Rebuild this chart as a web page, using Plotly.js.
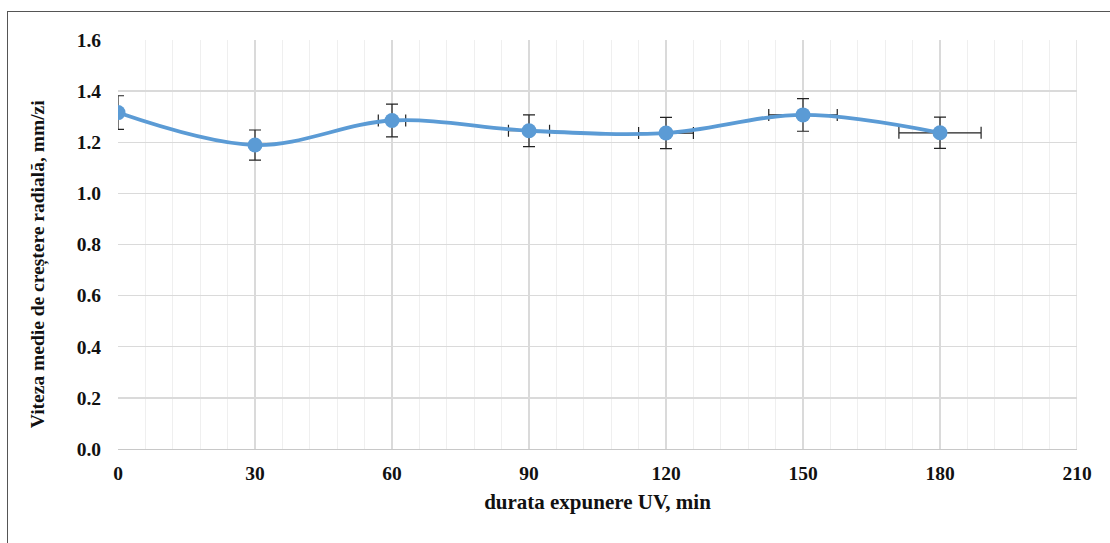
<!DOCTYPE html>
<html>
<head>
<meta charset="utf-8">
<script src="https://cdn.plot.ly/plotly-3.0.1.min.js"></script>
<style>
  html, body { margin: 0; padding: 0; background: #fff; }
  #frame { position: absolute; left: 7px; top: 11px; width: 1200px; height: 600px;
           border-left: 1.5px solid #555; border-top: 1.5px solid #555; pointer-events: none; }
  #chart { position: absolute; left: 0; top: 0; width: 1110px; height: 543px; }
</style>
</head>
<body>
<div id="chart"></div>
<div id="frame"></div>
<script>
const durations = [0, 30, 60, 90, 120, 150, 180];
const growthRate = [1.316, 1.189, 1.285, 1.245, 1.236, 1.307, 1.237];
const yError = [0.066, 0.059, 0.064, 0.062, 0.061, 0.064, 0.061];
const xError = [0, 0, 3, 4.5, 6, 7.5, 9];
const xTicks = [0, 30, 60, 90, 120, 150, 180, 210];
const yTicks = [0.0, 0.2, 0.4, 0.6, 0.8, 1.0, 1.2, 1.4, 1.6];
const xTitle = 'durata expunere UV, min';
const yTitle = 'Viteza medie de creștere radială, mm/zi';

const FAMILY = 'Liberation Serif';
const TICK_FONT = () => ({ family: FAMILY, size: 19.5, color: '#111', weight: 'bold' });
const TITLE_FONT = () => ({ family: FAMILY, size: 21, color: '#111', weight: 'bold' });

const trace = {
  x: durations,
  y: growthRate,
  type: 'scatter',
  mode: 'lines+markers',
  line: { color: '#5B9BD5', width: 3.8, shape: 'spline', smoothing: 1 },
  marker: { color: '#5B9BD5', size: 15 },
  error_y: { type: 'data', array: yError, visible: true, color: '#222', thickness: 1.2, width: 6 },
  error_x: { type: 'data', array: xError, visible: true, color: '#222', thickness: 1.2, width: 6 },
  hoverinfo: 'x+y'
};

const layout = {
  width: 1110,
  height: 543,
  margin: { l: 118, r: 33, t: 40, b: 94 },
  paper_bgcolor: '#fff',
  plot_bgcolor: '#fff',
  showlegend: false,
  font: { family: FAMILY, size: 19, color: '#111', weight: 'bold' },
  xaxis: {
    range: [0, 210],
    tickmode: 'array',
    tickvals: xTicks,
    ticktext: xTicks.map(v => String(v)),
    tickfont: TICK_FONT(),
    showgrid: true,
    gridcolor: '#dadada',
    gridwidth: 1.3,
    minor: { dtick: 6, showgrid: true, gridcolor: '#efefef', gridwidth: 1 },
    showline: true,
    linecolor: '#c8c8c8',
    linewidth: 1.3,
    zeroline: false,
    ticks: '',
    ticklabelstandoff: 6,
    title: { text: xTitle, font: TITLE_FONT(), standoff: 11 },
    automargin: true
  },
  yaxis: {
    range: [0, 1.6],
    tickmode: 'array',
    tickvals: yTicks,
    ticktext: yTicks.map(v => v.toFixed(1)),
    tickfont: TICK_FONT(),
    showgrid: true,
    gridcolor: '#dadada',
    gridwidth: 1.3,
    showline: false,
    zeroline: false,
    ticks: '',
    ticklabelstandoff: 16,
    automargin: false
  },
  annotations: [
    {
      text: yTitle, textangle: -90, showarrow: false,
      xref: 'paper', yref: 'paper', x: -0.0834, y: 0.452,
      xanchor: 'center', yanchor: 'middle',
      font: { family: FAMILY, size: 19.5, color: '#111', weight: 'bold' }
    }
  ],
  shapes: [
    { type: 'line', xref: 'x', yref: 'y', x0: 210, x1: 210, y0: 0, y1: 1.6, line: { color: '#dadada', width: 1.3 } }
  ]
};

Plotly.newPlot('chart', [trace], layout, { displayModeBar: false, staticPlot: true });
</script>
</body>
</html>
